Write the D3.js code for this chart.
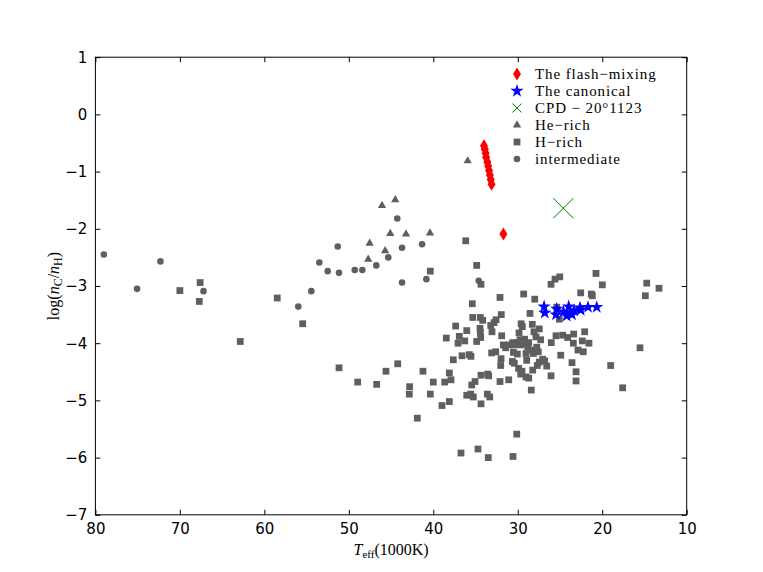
<!DOCTYPE html>
<meta charset="utf-8">
<style>
body { margin: 0; background: white; }
.tick text { font: 15px "DejaVu Sans", sans-serif; fill: #000; }
.lab { font-family: "Liberation Serif", "DejaVu Serif", serif; font-size: 16px; }
.leg { font-family: "Liberation Serif", "DejaVu Serif", serif; font-size: 15px; letter-spacing: 0.9px; }
</style>
<body>
<script src="https://d3js.org/d3.v7.min.js"></script>
<script>
// sizes of the page and of the axes box
var width = 763, height = 572;
var margin = {left: 95.4, right: 76.3, top: 57.2, bottom: 57.2};

// data: [Teff (1000K), log(nC/nH)]
var flashMixing = [[34.0,-0.55],[33.9,-0.61],[33.8,-0.68],[33.75,-0.75],[33.6,-0.83],[33.5,-0.90],[33.4,-0.98],[33.3,-1.06],[33.2,-1.14],[33.1,-1.22],[31.7,-2.09]];
var canonical = [[26.88,-3.36],[26.8,-3.47],[25.39,-3.40],[25.47,-3.50],[24.6,-3.45],[23.97,-3.36],[23.81,-3.47],
  [23.58,-3.50],[23.34,-3.43],[22.63,-3.38],[22.55,-3.42],[21.68,-3.37],[20.65,-3.37],[24.21,-3.52]];
var cpd = [[24.6,-1.64]];
var heRich = [[47.53,-2.24],[47.7,-2.52],[46.07,-1.58],[44.5,-1.48],[45.09,-2.07],[45.7,-2.37],[43.23,-2.08],[40.39,-2.06],[35.93,-0.80]];
var intermediate = [[79.0,-2.45],[75.07,-3.05],[72.3,-2.57],[67.2,-3.09],[55.98,-3.36],[54.44,-3.09],[53.49,-2.59],[52.5,-2.74],
  [51.31,-2.31],[51.16,-2.77],[49.3,-2.72],[48.4,-2.72],[46.75,-2.64],[44.26,-1.82],[45.33,-2.50],[43.7,-2.33],[41.33,-2.27],
  [40.82,-2.88],[43.7,-2.94],[34.62,-2.91]];
var hRich = [[70.0,-3.08],[67.6,-2.94],[67.7,-3.27],[62.85,-3.97],[58.47,-3.21],[55.46,-3.66],[40.35,-2.74],
  [51.16,-4.43],[48.95,-4.68],[46.7,-4.72],[45.6,-4.49],[44.21,-4.36],
  [42.8,-4.76],[42.84,-4.89],[41.22,-4.49],[40.35,-4.89],[41.89,-5.31],[40.0,-4.68],[38.1,-4.52],[37.9,-4.64],[38.65,-4.68],[38.1,-5.02],[38.97,-5.09],
  [36.16,-2.21],[34.86,-2.64],[34.35,-2.97],[25.59,-2.88],[25.03,-2.84],[26.06,-2.97],
  [20.74,-2.78],[19.99,-2.98],[22.55,-3.12],[21.29,-3.14],[21.17,-3.17],
  [29.30,-3.14],[27.99,-3.23],[32.1,-3.20],[35.38,-3.31],
  [28.55,-3.48],[25.39,-3.37],[25.08,-3.58],[31.95,-3.50],[35.33,-3.55],[34.43,-3.55],[34.15,-3.60],[32.57,-3.59],[32.81,-3.64],
  [37.35,-3.70],[36.04,-3.78],[34.47,-3.74],[34.43,-3.81],[34.39,-3.90],[33.2,-3.69],[33.05,-3.80],
  [29.6,-3.66],[29.46,-3.71],[28.28,-3.67],[27.45,-3.75],[28.08,-3.80],[27.84,-3.89],[29.85,-3.82],
  [38.46,-3.91],[36.92,-3.88],[36.28,-3.96],[37.07,-4.0],[34.86,-3.97],[31.9,-3.87],
  [29.73,-3.94],[29.18,-3.93],[27.29,-3.94],[26.03,-3.99],[25.47,-3.87],[24.68,-3.86],[24.09,-3.90],[23.38,-3.84],[22.08,-3.80],[22.36,-3.96],[21.57,-4.0],[23.42,-4.0],
  [22.87,-4.12],[22.24,-4.15],[24.91,-4.21],[23.58,-4.34],[23.1,-4.50],[23.1,-4.66],[26.06,-4.57],[28.4,-4.82],[31.07,-4.64],[32.1,-4.67],
  [35.57,-4.89],[36.04,-4.91],[35.26,-4.94],[35.45,-4.73],[35.06,-4.67],[34.35,-4.56],[33.56,-4.54],[33.44,-4.57],[33.6,-4.89],[33.32,-4.94],[34.35,-5.06],
  [37.63,-4.29],[36.6,-4.22],[35.74,-4.20],[35.54,-4.23],[33.09,-4.17],[32.61,-4.15],[31.98,-4.27],[32.02,-4.39],
  [31.71,-4.03],[31.43,-4.08],[31.0,-4.03],[30.6,-3.99],[30.41,-4.03],[30.05,-3.99],[29.65,-4.03],[29.22,-4.0],[28.82,-4.06],[28.7,-3.99],
  [30.52,-4.16],[30.05,-4.19],[29.02,-4.18],[30.64,-4.32],[30.41,-4.35],[28.94,-4.30],
  [29.9,-4.44],[29.5,-4.49],[29.65,-4.54],[29.02,-4.59],[28.7,-4.61],
  [28.23,-4.47],[27.69,-4.39],[27.45,-4.33],[27.05,-4.28],[26.81,-4.31],[26.57,-4.40],
  [27.57,-4.15],[28.15,-4.18],[28.3,-4.12],[27.75,-4.07],
  [19.0,-4.39],[14.73,-2.95],[13.28,-3.04],[14.9,-3.17],[15.53,-4.08],[17.58,-4.78],
  [30.12,-5.59],[36.72,-5.92],[34.71,-5.85],[33.49,-6.0],[30.56,-5.98]];

var xTicks = [80,70,60,50,40,30,20,10];
var yTicks = [1,0,-1,-2,-3,-4,-5,-6,-7];

var grey = "#5f5f5f";

var x = d3.scaleLinear().domain([80,10]).range([margin.left, width - margin.right]);
var y = d3.scaleLinear().domain([-7,1]).range([height - margin.bottom, margin.top]);

var svg = d3.select("body").append("svg")
    .attr("width", width)
    .attr("height", height);

// marker shapes
var sq = d3.symbol().type(d3.symbolSquare).size(46)();
var circ = d3.symbol().type(d3.symbolCircle).size(34)();
var tri = d3.symbol().type(d3.symbolTriangle).size(30)();
var star = d3.symbol().type(d3.symbolStar).size(55)();
var diamond = "M0,-6.5L4,0L0,6.5L-4,0Z";

function drawSeries(data, path, fill, dy) {
  svg.append("g").selectAll("path")
    .data(data)
    .enter().append("path")
      .attr("d", path)
      .attr("fill", fill)
      .attr("transform", function(d) { return "translate(" + x(d[0]) + "," + (y(d[1]) + (dy || 0)) + ")"; });
}

drawSeries(hRich, sq, grey);
drawSeries(intermediate, circ, grey);
drawSeries(heRich, tri, grey, 0.8);
drawSeries(flashMixing, diamond, "red");
drawSeries(canonical, star, "blue");

// CPD -20 1123 big cross
svg.append("g").selectAll("path")
  .data(cpd)
  .enter().append("path")
    .attr("d", "M-10,-10L10,10M-10,10L10,-10")
    .attr("stroke", "#008000")
    .attr("stroke-width", 1)
    .attr("fill", "none")
    .attr("transform", function(d) { return "translate(" + x(d[0]) + "," + y(d[1]) + ")"; });

// axes with inward ticks on all four sides
function styleAxis(g) {
  g.select(".domain").remove();
  g.selectAll(".tick line").attr("stroke", "#000");
}
svg.append("g")
    .attr("transform", "translate(0," + (height - margin.bottom) + ")")
    .call(d3.axisBottom(x).tickValues(xTicks).tickSize(-5).tickPadding(9))
    .call(styleAxis);
svg.append("g")
    .attr("transform", "translate(0," + margin.top + ")")
    .call(d3.axisTop(x).tickValues(xTicks).tickSize(-5).tickFormat(""))
    .call(styleAxis);
svg.append("g")
    .attr("transform", "translate(" + margin.left + ",0)")
    .call(d3.axisLeft(y).tickValues(yTicks).tickSize(-5).tickPadding(8).tickFormat(function(d) { return d < 0 ? "\u2212" + (-d) : d; }))
    .call(styleAxis);
svg.append("g")
    .attr("transform", "translate(" + (width - margin.right) + ",0)")
    .call(d3.axisRight(y).tickValues(yTicks).tickSize(-5).tickFormat(""))
    .call(styleAxis);

svg.append("rect")
    .attr("x", margin.left).attr("y", margin.top)
    .attr("width", width - margin.left - margin.right)
    .attr("height", height - margin.top - margin.bottom)
    .attr("fill", "none").attr("stroke", "#000").attr("stroke-width", 1);

// axis labels
var xl = svg.append("text").attr("class", "lab")
    .attr("x", (margin.left + width - margin.right) / 2).attr("y", 555)
    .attr("text-anchor", "middle");
xl.append("tspan").attr("font-style", "italic").text("T");
xl.append("tspan").attr("font-size", "11px").attr("dy", 3).text("eff");
xl.append("tspan").attr("dy", -3).text("(1000K)");

var yl = svg.append("text").attr("class", "lab")
    .attr("font-size", "18px")
    .attr("transform", "translate(59," + ((margin.top + height - margin.bottom) / 2) + ") rotate(-90)")
    .attr("text-anchor", "middle");
yl.append("tspan").text("log(");
yl.append("tspan").attr("font-style", "italic").text("n");
yl.append("tspan").attr("font-size", "12px").attr("dy", 3).text("C");
yl.append("tspan").attr("dy", -3).text("/");
yl.append("tspan").attr("font-style", "italic").text("n");
yl.append("tspan").attr("font-size", "12px").attr("dy", 3).text("H");
yl.append("tspan").attr("dy", -3).text(")");

// legend (no frame)
var legendItems = [
  {name: "The flash\u2212mixing", path: diamond, fill: "red"},
  {name: "The canonical", path: star, fill: "blue"},
  {name: "CPD \u2212 20\u00b01123", path: "M-4.5,-4.5L4.5,4.5M-4.5,4.5L4.5,-4.5", stroke: "#008000"},
  {name: "He\u2212rich", path: tri, fill: grey},
  {name: "H\u2212rich", path: sq, fill: grey},
  {name: "intermediate", path: circ, fill: grey}
];
var leg = svg.append("g").selectAll("g")
  .data(legendItems)
  .enter().append("g")
    .attr("transform", function(d, i) { return "translate(517," + (74 + i * 17) + ")"; });
leg.append("path")
    .attr("d", function(d) { return d.path; })
    .attr("fill", function(d) { return d.fill || "none"; })
    .attr("stroke", function(d) { return d.stroke || "none"; });
leg.append("text").attr("class", "leg")
    .attr("x", 18).attr("y", 5)
    .text(function(d) { return d.name; });
</script>
</body>
